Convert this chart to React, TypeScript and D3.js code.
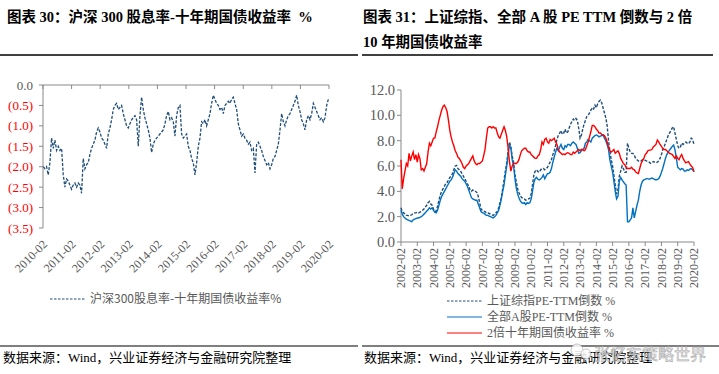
import React from 'react';
import * as d3 from 'd3';

// ---------- Left chart data: 沪深300股息率 - 十年期国债收益率 (%) ----------
const LEFT_START = '2010-02-04';
const LEFT_STEP_DAYS = 21.29;
const LEFT_SPREAD = [
  -2.0, -2.05, -2.0, -2.2, -1.9, -1.3, -1.55, -1.35, -1.6, -1.5,
  -1.6, -1.55, -2.2, -2.5, -2.3, -2.35, -2.45, -2.55, -2.45, -2.4,
  -2.5, -2.4, -2.45, -2.65, -1.8, -2.05, -1.95, -1.9, -1.7, -1.55,
  -1.45, -1.35, -1.15, -1.05, -1.15, -1.3, -1.35, -1.45, -1.55, -1.2,
  -1.05, -0.85, -0.6, -0.5, -0.45, -0.6, -0.55, -0.5, -0.7, -0.85,
  -1.0, -1.05, -0.95, -0.85, -0.8, -0.75, -0.85, -1.5, -0.75, -0.3,
  -0.6, -0.8, -0.95, -1.1, -1.3, -1.65, -1.45, -1.35, -1.3, -1.25,
  -1.2, -1.15, -1.1, -0.95, -0.75, -0.65, -0.85, -0.8, -0.9, -1.25,
  -0.75, -0.55, -0.5,
  -1.2, -1.3, -1.25, -1.2, -1.5, -1.6, -1.8, -1.9, -2.2, -1.9,
  -1.5, -1.3, -0.9, -0.95, -0.85, -1.0, -0.85, -0.7, -0.45, -0.25,
  -0.35, -0.45, -0.5, -0.6, -0.55, -0.7, -0.5, -0.45, -0.4, -0.45,
  -0.35, -0.3, -0.45, -0.6, -0.95, -1.1, -1.25, -1.2, -1.3, -1.35,
  -1.45, -1.4, -1.6, -1.55, -2.15, -1.45, -1.4, -1.5, -1.6, -1.75,
  -1.85, -1.95, -1.9, -2.05, -1.95, -1.8, -1.75, -1.6, -1.45, -1.1,
  -0.7, -0.9, -1.0, -0.85, -0.75, -0.7, -0.6, -0.5, -0.4, -0.25,
  -0.5, -0.65, -0.85, -0.95, -1.1, -0.85, -0.75, -0.85, -0.7, -0.45,
  -0.55, -0.65, -0.75, -0.85, -0.8, -0.9, -0.8, -0.5, -0.35,
];
const LEFT_X_TICKS = ['2010-02', '2011-02', '2012-02', '2013-02', '2014-02', '2015-02', '2016-02', '2017-02', '2018-02', '2019-02', '2020-02'];
const LEFT_Y_TICKS = [0, -0.5, -1, -1.5, -2, -2.5, -3, -3.5];
const LEFT_LEGEND = '沪深300股息率-十年期国债收益率%';

// ---------- Right chart data (monthly, from 2002-02) ----------
const RIGHT_START = '2002-02';
const RIGHT_SSE_PE_INV = [
  2.7, 2.4, 2.3, 2.2, 2.1, 2.1, 2.05, 2.1, 2.15, 2.25, 2.3,
  2.3, 2.35, 2.3, 2.35, 2.4, 2.5, 2.6, 2.75, 2.9, 3.1, 3.2, 3.0,
  2.9, 2.6, 2.4, 2.45, 2.8, 3.3, 3.7, 4.0, 4.2, 4.4, 4.6, 4.7,
  4.9, 5.1, 5.2, 5.4, 5.7, 6.0, 6.05, 5.8, 5.7, 5.6, 5.4, 5.2,
  5.0, 4.8, 4.6, 4.4, 4.1, 4.0, 4.1, 4.0, 4.0, 3.9, 3.6, 3.1,
  2.6, 2.5, 2.45, 2.4, 2.3, 2.3, 2.25, 2.2, 2.15, 2.1, 2.2, 2.3,
  2.4, 2.7, 3.1, 3.5, 4.2, 4.9, 5.6, 6.3, 7.2, 7.9, 7.5, 6.8,
  6.3, 5.3, 4.8, 4.2, 3.9, 3.65, 3.5, 3.45, 3.4, 3.3, 3.35, 3.4,
  3.45, 3.8, 4.5, 5.3, 5.6, 5.7, 5.55, 5.5, 5.7, 5.8, 5.8, 5.7,
  5.8, 5.9, 6.1, 6.3, 6.5, 6.9, 7.2, 7.6, 8.1, 8.4, 8.6, 8.8,
  8.5, 8.6, 8.9, 8.6, 8.7, 9.0, 9.3, 9.5, 9.7, 9.6, 9.75, 9.6,
  9.0, 8.2, 8.4, 8.9, 9.3, 9.6, 9.9, 10.0, 10.2, 10.4, 10.6, 10.5,
  10.8, 10.6, 10.9, 11.1, 11.2, 11.0, 10.6, 10.2, 9.8, 9.2, 8.0, 7.2,
  6.5, 6.0, 5.3, 4.5, 3.8, 4.1, 5.2, 5.6, 6.0, 5.8, 5.5, 5.5,
  7.8, 7.4, 7.1, 7.0, 7.0, 6.85, 6.6, 6.5, 6.4, 6.35, 6.4, 6.5,
  6.5, 6.45, 6.4, 6.35, 6.3, 6.2, 6.25, 6.35, 6.3, 6.25, 6.3, 6.4,
  6.6, 6.9, 7.3, 7.5, 7.8, 8.1, 8.4, 8.6, 8.8, 9.0, 9.1, 8.6,
  8.1, 7.6, 7.4, 7.5, 7.8, 7.7, 7.8, 7.9, 7.8, 7.75, 7.9, 8.2,
  8.1, 7.7,
];
const RIGHT_ALL_A_PE_INV = [
  2.5, 2.2, 2.0, 1.9, 1.8, 1.75, 1.7, 1.65, 1.6, 1.75, 1.8,
  1.85, 1.9, 1.9, 1.95, 2.0, 2.1, 2.2, 2.3, 2.45, 2.55, 2.7, 2.6,
  2.7, 2.5, 2.35, 2.3, 2.5, 2.9, 3.3, 3.6, 3.8, 4.0, 4.2, 4.4,
  4.6, 4.8, 4.9, 5.1, 5.4, 5.7, 5.6, 5.4, 5.3, 5.2, 5.0, 4.9,
  4.8, 4.6, 4.4, 4.1, 3.8, 3.5, 3.4, 3.35, 3.3, 3.3, 3.0, 2.7,
  2.4, 2.3, 2.3, 2.2, 2.1, 2.1, 2.05, 2.0, 1.95, 1.9, 2.0, 2.1,
  2.3, 2.5, 2.9, 3.4, 4.0, 4.5, 5.3, 6.0, 6.9, 7.7, 7.4, 6.5,
  6.0, 5.0, 4.3, 3.8, 3.5, 3.25, 3.1, 3.05, 3.1, 2.95, 3.1, 3.05,
  3.1, 3.4, 4.0, 4.7, 5.0, 5.1, 4.95, 4.9, 5.0, 5.1, 5.3, 5.0,
  5.2, 5.4, 5.4, 5.5, 5.8, 6.3, 6.7, 7.1, 7.4, 7.2, 7.5, 7.7,
  7.4, 7.3, 7.6, 7.5, 7.7, 7.7, 7.6, 7.8, 7.9, 7.8, 7.7, 7.4,
  7.0, 7.05, 7.2, 7.3, 7.4, 7.8, 7.9, 8.1, 8.0, 7.9, 8.2, 8.3,
  8.4, 8.45, 8.4, 8.3, 8.35, 8.4, 8.45, 8.2, 8.0, 7.7, 7.3, 6.5,
  6.0, 5.5, 4.8, 4.0, 3.4, 3.6, 4.8, 5.1, 4.9, 4.75, 4.6, 4.5,
  1.6, 1.6, 1.75, 1.9, 2.7, 1.9, 2.4, 2.9, 3.3, 4.0, 4.5, 4.8,
  4.9, 4.95, 5.0, 5.0, 4.95, 5.0, 5.05, 5.0, 4.95, 4.9, 4.95, 5.0,
  5.2, 5.5, 5.8, 6.2, 6.6, 6.9, 7.1, 7.25, 7.4, 7.55, 7.65, 7.3,
  6.6, 5.9, 5.8, 5.7, 5.8, 5.75, 5.6, 5.6, 5.7, 5.65, 5.75, 5.8,
  5.7, 5.55,
];
const RIGHT_BOND_2X = [
  6.5, 4.2, 5.0, 5.6, 6.2, 6.0, 7.0, 6.4, 6.8, 7.1, 6.5,
  6.9, 6.3, 6.9, 6.6, 5.7, 5.8, 5.6, 5.9, 6.2, 7.1, 7.8, 7.6,
  7.9, 8.2, 8.2, 8.7, 9.1, 9.6, 10.0, 10.4, 10.7, 10.8, 10.6, 10.3,
  9.6, 8.8, 8.3, 7.9, 7.6, 7.2, 7.0, 6.7, 6.6, 6.4, 6.2, 5.9,
  5.8, 6.0, 6.1, 6.2, 6.4, 6.6, 6.8, 6.4, 6.2, 6.1, 6.2, 6.2,
  6.3, 6.4, 6.8, 7.3, 8.2, 9.0, 9.1, 9.1, 9.0, 9.1, 9.0, 9.0,
  8.6, 8.3, 8.2, 8.5, 8.8, 9.1, 8.8, 8.3, 7.4, 6.3, 5.6, 6.0,
  6.2, 6.2, 6.2, 6.3, 6.5, 6.9, 7.2, 7.3, 7.4, 7.4, 7.2, 7.1,
  7.1, 6.9, 6.8, 6.7, 6.6, 6.6, 6.8, 6.9, 7.3, 7.9, 7.7, 8.1,
  8.2, 7.9, 7.8, 8.1, 8.0, 8.1, 8.2, 7.9, 7.7, 7.3, 7.1, 7.0,
  6.9, 6.95, 6.9, 7.0, 7.05, 7.0, 6.9, 6.9, 7.1, 7.0, 7.1, 7.2,
  7.3, 7.2, 7.3, 7.3, 7.2, 7.3, 7.6, 7.9, 8.3, 8.7, 9.2, 9.2,
  9.1, 8.9, 8.8, 8.6, 8.6, 8.5, 8.45, 8.4, 8.2, 7.9, 7.5, 7.2,
  7.1, 7.2, 7.3, 7.0, 7.1, 7.2, 7.0, 6.6, 6.4, 6.2, 6.1, 5.9,
  5.8, 5.8, 5.8, 5.9, 5.75, 5.7, 5.55, 5.45, 5.4, 5.8, 6.2, 6.4,
  6.6, 6.9, 7.0, 7.2, 7.25, 7.25, 7.3, 7.5, 7.6, 7.7, 8.05, 7.9,
  7.7, 7.55, 7.4, 7.3, 7.3, 7.2, 7.1, 7.0, 6.95, 6.9, 6.75, 6.6,
  6.8, 6.6, 6.5, 6.75, 6.9, 6.6, 6.4, 6.25, 6.3, 6.35, 6.15, 6.0,
  5.9, 5.55,
];
const RIGHT_X_TICKS = ['2002-02', '2003-02', '2004-02', '2005-02', '2006-02', '2007-02', '2008-02', '2009-02', '2010-02', '2011-02', '2012-02', '2013-02', '2014-02', '2015-02', '2016-02', '2017-02', '2018-02', '2019-02', '2020-02'];
const RIGHT_Y_TICKS = [0, 2, 4, 6, 8, 10, 12];
const RIGHT_LEGEND = ['上证综指PE-TTM倒数 %', '全部A股PE-TTM倒数 %', '2倍十年期国债收益率 %'];

const LEFT_TITLE = '图表 30：沪深 300 股息率-十年期国债收益率  %';
const RIGHT_TITLE_1 = '图表 31：上证综指、全部 A 股 PE TTM 倒数与 2 倍';
const RIGHT_TITLE_2 = '10 年期国债收益率';
const SOURCE = '数据来源：Wind，兴业证券经济与金融研究院整理';
const WATERMARK = '张忆东策略世界';

const SERIF = '"Liberation Serif", "Times New Roman", "Noto Sans CJK SC", serif';
const SANS = '"Noto Sans CJK SC", "Microsoft YaHei", sans-serif';
const AXIS = '#898989';
const LABEL = '#595959';
const DARK_BLUE = '#1F4E79';
const BLUE = '#0070C0';
const RED = '#FF0000';

const parseMonth = d3.timeParse('%Y-%m');
const parseDay = d3.timeParse('%Y-%m-%d');

type Pt = { d: Date; v: number };

export default function App() {
  // Left chart scales
  const leftStart = parseDay(LEFT_START) as Date;
  const leftData: Pt[] = LEFT_SPREAD.map((v, i) => ({
    d: new Date(leftStart.getTime() + i * LEFT_STEP_DAYS * 864e5),
    v,
  }));
  const lx = d3.scaleTime()
    .domain([parseMonth(LEFT_X_TICKS[0]) as Date, parseMonth(LEFT_X_TICKS[LEFT_X_TICKS.length - 1]) as Date])
    .range([43, 329]);
  const ly = d3.scaleLinear().domain([-3.5, 0]).range([228, 85]);
  const leftPath = d3.line<Pt>().x((p) => lx(p.d)).y((p) => ly(p.v))(leftData) || '';

  // Right chart scales
  const rStart = parseMonth(RIGHT_START) as Date;
  const rx = d3.scaleTime()
    .domain([parseMonth(RIGHT_X_TICKS[0]) as Date, parseMonth(RIGHT_X_TICKS[RIGHT_X_TICKS.length - 1]) as Date])
    .range([401, 694]);
  const ry = d3.scaleLinear().domain([0, 12]).range([242, 90]);
  const rPath = (vals: number[]) =>
    d3.line<number>()
      .x((_, i) => rx(d3.timeMonth.offset(rStart, i)))
      .y((v) => ry(v))(vals) || '';

  const fmtLeft = (v: number) => (v === 0 ? '0.0' : `(${Math.abs(v).toFixed(1)})`);
  const rightSeries = [
    { vals: RIGHT_SSE_PE_INV, color: DARK_BLUE, dash: '3,1.6' },
    { vals: RIGHT_ALL_A_PE_INV, color: BLUE, dash: undefined },
    { vals: RIGHT_BOND_2X, color: RED, dash: undefined },
  ];

  return (
    <svg
      width={719}
      height={374}
      viewBox="0 0 719 374"
      style={{ position: 'absolute', left: 0, top: 0, background: '#fff' }}
    >
      <rect x={0} y={0} width={719} height={374} fill="#fff" />

      {/* Titles */}
      <text x={7} y={22} fontFamily={SERIF} fontWeight="bold" fontSize={14.5} fill="#000" style={{ whiteSpace: 'pre' }}>
        {LEFT_TITLE}
      </text>
      <text x={363} y={22} fontFamily={SERIF} fontWeight="bold" fontSize={14.5} fill="#000" style={{ whiteSpace: 'pre' }}>
        {RIGHT_TITLE_1}
      </text>
      <text x={363} y={47} fontFamily={SERIF} fontWeight="bold" fontSize={14.5} fill="#000" style={{ whiteSpace: 'pre' }}>
        {RIGHT_TITLE_2}
      </text>
      <line x1={0} x2={358} y1={55} y2={55} stroke="#000" strokeWidth={1.5} />
      <line x1={362} x2={713} y1={55} y2={55} stroke="#000" strokeWidth={1.5} />

      {/* ---------- Left chart ---------- */}
      <line x1={43} x2={43} y1={ly(0)} y2={ly(-3.5)} stroke={AXIS} strokeWidth={1} />
      <line x1={43} x2={329} y1={ly(0)} y2={ly(0)} stroke={AXIS} strokeWidth={1} />
      {LEFT_Y_TICKS.map((t) => (
        <g key={'ly' + t}>
          <line x1={39} x2={43} y1={ly(t)} y2={ly(t)} stroke={AXIS} />
          <text
            x={33}
            y={ly(t)}
            dy="0.35em"
            textAnchor="end"
            fontFamily={SERIF}
            fontSize={13}
            fill={t === 0 ? LABEL : RED}
          >
            {fmtLeft(t)}
          </text>
        </g>
      ))}
      {LEFT_X_TICKS.map((s) => {
        const x = lx(parseMonth(s) as Date);
        return (
          <g key={'lx' + s}>
            <line x1={x} x2={x} y1={ly(0)} y2={ly(0) + 4} stroke={AXIS} />
            <text
              transform={`translate(${x + 2},242) rotate(-45)`}
              dy="0.35em"
              textAnchor="end"
              fontFamily={SERIF}
              fontSize={12}
              fill={LABEL}
            >
              {s}
            </text>
          </g>
        );
      })}
      <path d={leftPath} fill="none" stroke={DARK_BLUE} strokeWidth={1.3} strokeDasharray="3,1.6" />

      {/* Left legend */}
      <line x1={50} x2={85} y1={299} y2={299} stroke={DARK_BLUE} strokeWidth={1} strokeDasharray="2.5,1.5" />
      <text x={90} y={299} dy="0.35em" fontFamily={SANS} fontSize={12} fill={LABEL}>
        {LEFT_LEGEND}
      </text>

      {/* ---------- Right chart ---------- */}
      <line x1={401} x2={401} y1={ry(12)} y2={ry(0)} stroke={AXIS} strokeWidth={1} />
      <line x1={401} x2={694} y1={ry(0)} y2={ry(0)} stroke={AXIS} strokeWidth={1} />
      {RIGHT_Y_TICKS.map((t) => (
        <g key={'ry' + t}>
          <line x1={397} x2={401} y1={ry(t)} y2={ry(t)} stroke={AXIS} />
          <text x={395} y={ry(t)} dy="0.35em" textAnchor="end" fontFamily={SERIF} fontSize={14.5} fill={LABEL}>
            {t.toFixed(1)}
          </text>
        </g>
      ))}
      {RIGHT_X_TICKS.map((s) => {
        const x = rx(parseMonth(s) as Date);
        return (
          <g key={'rx' + s}>
            <line x1={x} x2={x} y1={ry(0)} y2={ry(0) + 4} stroke={AXIS} />
            <text
              transform={`translate(${x},248) rotate(-90)`}
              dy="0.35em"
              textAnchor="end"
              fontFamily={SERIF}
              fontSize={12}
              fill={LABEL}
            >
              {s}
            </text>
          </g>
        );
      })}
      {rightSeries.map((s, i) => (
        <path
          key={'rs' + i}
          d={rPath(s.vals)}
          fill="none"
          stroke={s.color}
          strokeWidth={1.4}
          strokeDasharray={s.dash}
        />
      ))}

      {/* Right legend */}
      {RIGHT_LEGEND.map((label, i) => {
        const y = 301 + i * 16;
        const s = rightSeries[i];
        return (
          <g key={'rl' + i}>
            <line x1={447} x2={482} y1={y} y2={y} stroke={s.color} strokeWidth={1} strokeDasharray={s.dash ? '2.5,1.5' : undefined} />
            <text x={487} y={y} dy="0.35em" fontFamily={SERIF} fontSize={12} fill={LABEL}>
              {label}
            </text>
          </g>
        );
      })}

      {/* Footer */}
      <line x1={0} x2={358} y1={346} y2={346} stroke="#000" strokeWidth={1.2} />
      <line x1={362} x2={719} y1={346} y2={346} stroke="#000" strokeWidth={1.2} />
      <text x={3} y={362} fontFamily={SERIF} fontSize={13} fill="#000">
        {SOURCE}
      </text>
      <text x={364} y={362} fontFamily={SERIF} fontSize={13} fill="#000">
        {SOURCE}
      </text>

      {/* Watermark */}
      <g opacity={0.85}>
        <circle cx={577} cy={350} r={6} fill="#fff" stroke="#aaa" strokeWidth={0.8} />
        <circle cx={586} cy={354} r={5} fill="#fff" stroke="#aaa" strokeWidth={0.8} />
        <text x={594} y={360} fontFamily={SANS} fontSize={16} fill="#fff" stroke="#9a9a9a" strokeWidth={0.6}>
          {WATERMARK}
        </text>
      </g>
    </svg>
  );
}
